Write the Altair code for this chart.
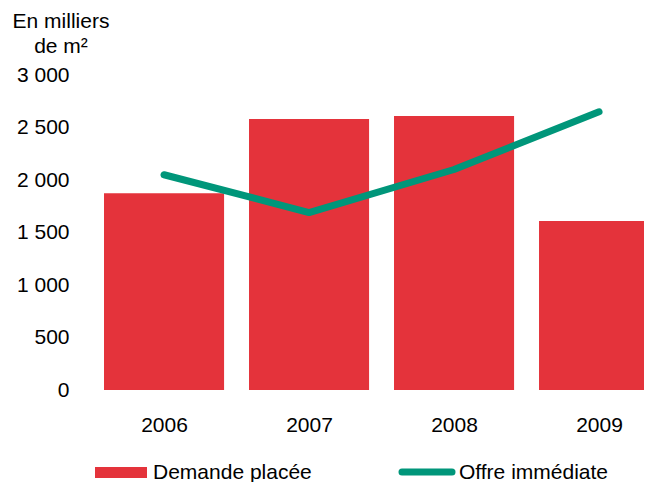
import altair as alt
import pandas as pd

years = [2006, 2007, 2008, 2009]
demande = [1875, 2580, 2610, 1610]
offre = [2050, 1690, 2100, 2650]
y_ticks = [0, 500, 1000, 1500, 2000, 2500, 3000]
series = ["Demande placée", "Offre immédiate"]
unit_lines = ["En milliers", "de m²"]

df = pd.DataFrame({"year": years, "demande": demande, "offre": offre})

RED = "#E4333B"
GREEN = "#00967A"
FONT = "Liberation Sans"
FS = 21

x_scale = alt.Scale(domain=[2005.448, 2009.31], nice=False, zero=False)
y_scale = alt.Scale(domain=[0, 3000], nice=False)

base = alt.Chart(df)

bars = base.transform_calculate(
    x0="datum.year - 0.414", x1="datum.year + 0.414", z="0"
).mark_bar(color=RED, clip=True).encode(
    x=alt.X("x0:Q", scale=x_scale,
            axis=alt.Axis(values=years, format="d", title=None, domain=False, ticks=False,
                          grid=False, labelPadding=24, labelFontSize=FS, labelFont=FONT,
                          labelColor="black", labelFlush=False, labelOverlap=False)),
    x2="x1:Q",
    y=alt.Y("demande:Q", scale=y_scale,
            axis=alt.Axis(values=y_ticks, labelExpr="replace(format(datum.value, ','), ',', ' ')",
                          title=None, domain=False, ticks=False, grid=False, labelPadding=15,
                          labelFontSize=FS, labelFont=FONT, labelColor="black",
                          labelFlush=False, labelOverlap=False)),
    y2="z:Q",
)

line = base.mark_line(color=GREEN, strokeWidth=7, strokeCap="round", strokeJoin="round").encode(
    x=alt.X("year:Q", scale=x_scale),
    y=alt.Y("offre:Q", scale=y_scale),
)

title_df = pd.DataFrame({"t": ["\n".join(unit_lines)]})
unit = alt.Chart(title_df).mark_text(
    font=FONT, fontSize=FS, color="black", align="center", baseline="alphabetic",
    lineBreak="\n", lineHeight=25
).encode(text="t:N", x=alt.value(-23), y=alt.value(-47))

leg_df = pd.DataFrame({"name": series})
leg_rect = alt.Chart(leg_df).transform_filter(alt.datum.name == series[0]).mark_rect(color=RED).encode(
    x=alt.value(11), x2=alt.value(63), y=alt.value(392), y2=alt.value(403))
leg_rect_text = alt.Chart(leg_df).transform_filter(alt.datum.name == series[0]).mark_text(
    font=FONT, fontSize=FS, color="black", align="left", baseline="alphabetic"
).encode(text="name:N", x=alt.value(69), y=alt.value(404))
leg_line = alt.Chart(leg_df).transform_filter(alt.datum.name == series[1]).mark_rule(
    color=GREEN, strokeWidth=7, strokeCap="round").encode(
    x=alt.value(318), x2=alt.value(368), y=alt.value(397))
leg_line_text = alt.Chart(leg_df).transform_filter(alt.datum.name == series[1]).mark_text(
    font=FONT, fontSize=FS, color="black", align="left", baseline="alphabetic"
).encode(text="name:N", x=alt.value(375), y=alt.value(404))

chart = alt.layer(bars, line, unit, leg_rect, leg_rect_text, leg_line, leg_line_text).properties(
    width=560, height=315,
    autosize=alt.AutoSizeParams(type="none"),
    padding={"left": 76, "top": 67, "right": 0, "bottom": 92},
    background="white",
).configure_view(stroke=None)

chart.save("out.html", embed_options={"renderer": "svg", "actions": False})
